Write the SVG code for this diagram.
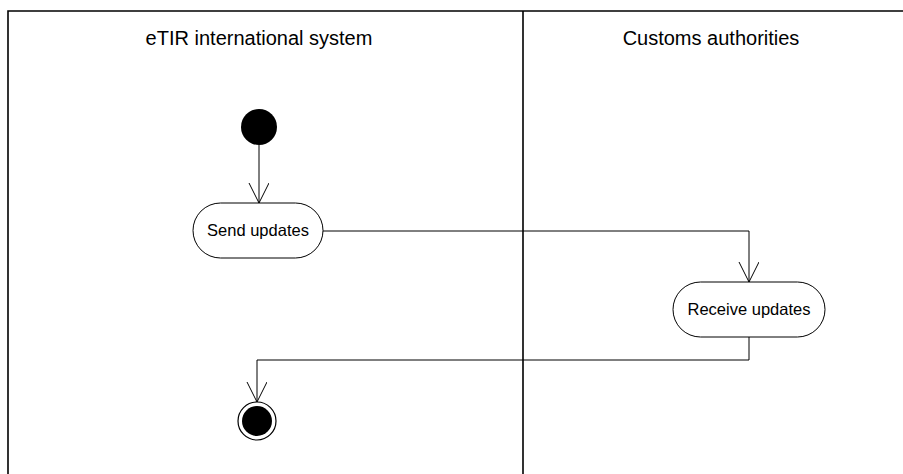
<svg xmlns="http://www.w3.org/2000/svg" width="903" height="474" viewBox="0 0 903 474">
<defs>
<style>
.lane{stroke:#000;stroke-width:1.6;fill:none}
.title{font-family:"Liberation Sans",Arial,sans-serif;font-size:20px;fill:#000;text-anchor:middle}
.act{fill:#fff;stroke:#000;stroke-width:1}
.lbl{font-family:"Liberation Sans",Arial,sans-serif;font-size:16.5px;fill:#000;text-anchor:middle}
.edge{stroke:#000;stroke-width:1;fill:none}
</style>
<marker id="arr" markerWidth="22" markerHeight="22" refX="20" refY="10" orient="auto" markerUnits="userSpaceOnUse">
<path d="M0,0 L20,10 L0,20" fill="none" stroke="#000" stroke-width="1"/>
</marker>
</defs>
<rect width="903" height="474" fill="#fff"/>
<g id="swimlanes">
<path class="lane" d="M8,474 V11 H903 M523,11 V474"/>
<text class="title" x="259" y="45">eTIR international system</text>
<text class="title" x="711" y="45">Customs authorities</text>
</g>
<g id="connectors">
<path class="edge" d="M259,145 V203" marker-end="url(#arr)"/>
<path class="edge" d="M323,231 H749 V282" marker-end="url(#arr)"/>
<path class="edge" d="M749,337 V360 H257 V402" marker-end="url(#arr)"/>
</g>
<g id="start">
<circle cx="259" cy="127" r="18" fill="#000"/>
</g>
<g id="send-updates">
<rect class="act" x="193" y="203" width="130" height="55" rx="27.5"/>
<text class="lbl" x="258" y="236">Send updates</text>
</g>
<g id="receive-updates">
<rect class="act" x="673" y="282" width="152" height="55" rx="27.5"/>
<text class="lbl" x="749" y="315">Receive updates</text>
</g>
<g id="end">
<circle cx="257" cy="421" r="19" fill="#fff" stroke="#000" stroke-width="1.2"/>
<circle cx="257" cy="421" r="15" fill="#000"/>
</g>
</svg>
